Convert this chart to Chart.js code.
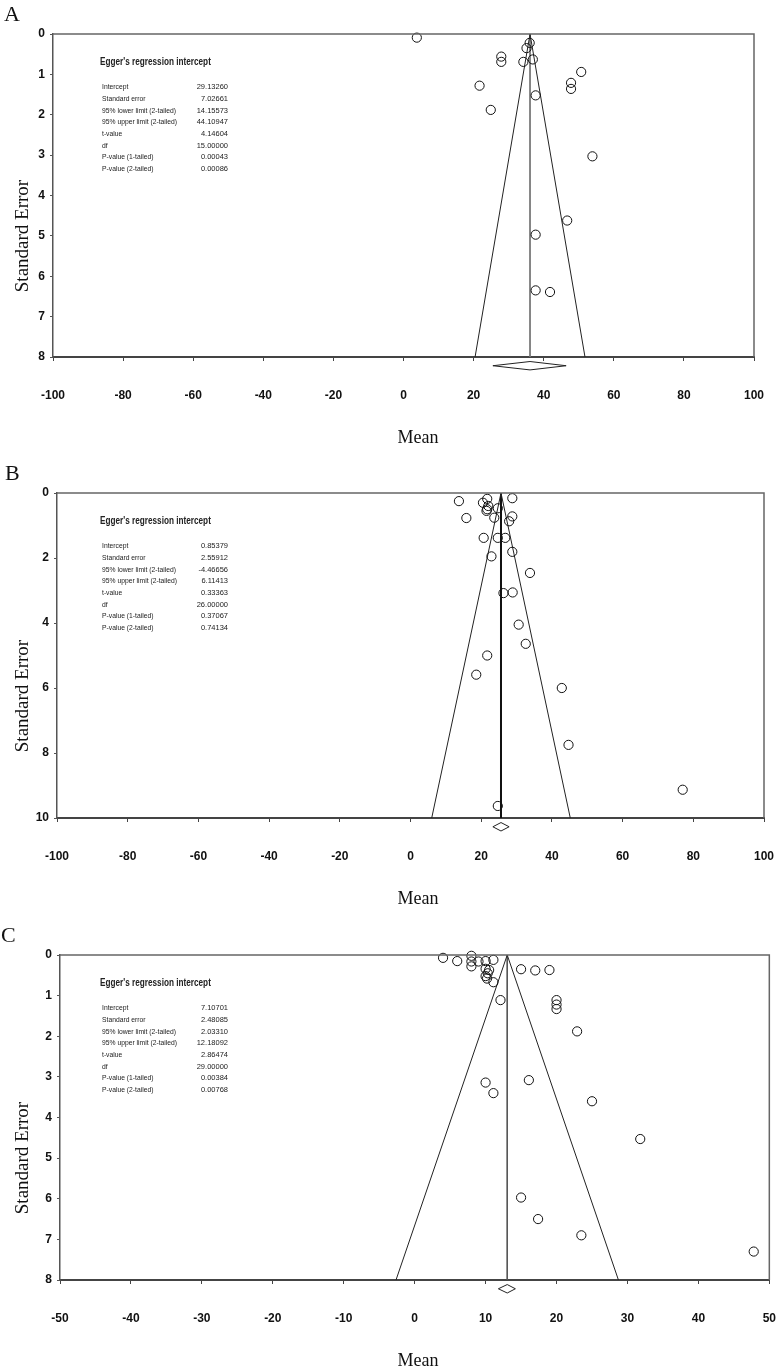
<!DOCTYPE html>
<html>
<head>
<meta charset="utf-8">
<script src="https://cdn.jsdelivr.net/npm/chart.js@4.4.1/dist/chart.umd.min.js"></script>
<style>
  body { margin: 0; background: #fff; }
  #page { position: relative; width: 779px; height: 1370px; overflow: hidden; background: #fff; }
  canvas { position: absolute; left: 0; }
  .letter { position: absolute; font-family: "Liberation Serif", "DejaVu Serif", serif; font-size: 22px; color: #111; line-height: 22px; }
  .ytitle { position: absolute; font-family: "Liberation Serif", serif; font-size: 19px; color: #111; white-space: nowrap; transform: translate(-50%, -50%) rotate(-90deg); }
  .xtitle { position: absolute; font-family: "Liberation Serif", serif; font-size: 18px; color: #111; transform: translate(-50%, -50%); }
  .egger { position: absolute; left: 100px; font-family: "Liberation Sans", Arial, sans-serif; color: #222; }
  .egger .head { position: absolute; left: 0; font-weight: bold; font-size: 10px; line-height: 12px; white-space: nowrap; transform: scaleX(0.82); transform-origin: left center; }
  .egger .lab { position: absolute; left: 2px; font-size: 7.5px; line-height: 11.7px; white-space: nowrap; transform: scaleX(0.9); transform-origin: left center; }
  .egger .val { position: absolute; font-size: 7.5px; line-height: 11.7px; white-space: nowrap; text-align: right; width: 60px; left: 68px; }
</style>
</head>
<body>
<div id="page">
  <canvas id="chartA" width="779" height="460" style="top:0px"></canvas>
  <canvas id="chartB" width="779" height="440" style="top:460px"></canvas>
  <canvas id="chartC" width="779" height="470" style="top:900px"></canvas>
</div>
<script>
// panel A
const meanA = [3.8, 35.1, 36.0, 27.9, 27.9, 34.2, 36.9, 50.7, 21.7, 47.8, 47.8, 37.7, 24.9, 53.9, 46.7, 37.7, 37.7, 41.8];
const seA = [0.09, 0.35, 0.22, 0.56, 0.69, 0.69, 0.63, 0.94, 1.28, 1.21, 1.36, 1.52, 1.88, 3.03, 4.62, 4.97, 6.35, 6.39];
const pooledA = 36.1;
const ciA = [25.5, 46.4];
const eggerA = ["29.13260", "7.02661", "14.15573", "44.10947", "4.14604", "15.00000", "0.00043", "0.00086"];

// panel B
const meanB = [13.7, 21.7, 20.5, 28.8, 22.0, 21.7, 24.7, 21.5, 15.8, 23.7, 28.8, 27.9, 20.7, 24.7, 26.8, 28.8, 22.9, 33.8, 26.3, 28.9, 30.6, 32.6, 21.7, 18.6, 42.8, 44.7, 77.0, 24.7];
const seB = [0.25, 0.18, 0.30, 0.16, 0.40, 0.50, 0.47, 0.55, 0.77, 0.76, 0.72, 0.87, 1.38, 1.38, 1.38, 1.81, 1.95, 2.46, 3.08, 3.06, 4.05, 4.64, 5.0, 5.59, 6.0, 7.75, 9.13, 9.63];
const pooledB = 25.6;
const ciB = [23.3, 27.9];
const eggerB = ["0.85379", "2.55912", "-4.46656", "6.11413", "0.33363", "26.00000", "0.37067", "0.74134"];

// panel C
const meanC = [4.0, 6.0, 8.0, 8.0, 8.0, 9.0, 10.0, 11.1, 10.0, 10.5, 10.0, 10.2, 10.3, 11.1, 15.0, 17.0, 19.0, 12.1, 20.0, 20.0, 20.0, 22.9, 10.0, 16.1, 11.1, 25.0, 31.8, 15.0, 17.4, 23.5, 47.8];
const seC = [0.07, 0.15, 0.02, 0.16, 0.28, 0.16, 0.15, 0.12, 0.34, 0.37, 0.52, 0.58, 0.45, 0.67, 0.35, 0.38, 0.37, 1.11, 1.11, 1.22, 1.33, 1.88, 3.14, 3.08, 3.40, 3.60, 4.53, 5.97, 6.50, 6.90, 7.30];
const pooledC = 13.05;
const ciC = [11.8, 14.2];
const eggerC = ["7.10701", "2.48085", "2.03310", "12.18092", "2.86474", "29.00000", "0.00384", "0.00768"];

const eggerLabels = ["Intercept", "Standard error", "95% lower limit (2-tailed)", "95% upper limit (2-tailed)", "t-value", "df", "P-value (1-tailed)", "P-value (2-tailed)"];
const panelLetters = ["A", "B", "C"];
const xTitle = "Mean";
const yTitle = "Standard Error";
const eggerTitle = "Egger's regression intercept";

const FONT_FAMILY = "'Liberation Sans Narrow', 'Liberation Sans', Arial, sans-serif";
const Y_TICK_FONT = { family: FONT_FAMILY, size: 12, weight: "bold" };
// tall line height pushes the x labels down without widening the side padding
const X_TICK_FONT = { family: FONT_FAMILY, size: 12, weight: "bold", lineHeight: 5.2 };

const boxBorder = {
  id: "boxBorder",
  afterDraw(chart) {
    const { ctx, chartArea } = chart;
    ctx.save();
    ctx.strokeStyle = "#666";
    ctx.lineWidth = 1.5;
    ctx.beginPath();
    ctx.moveTo(chartArea.left, chartArea.top);
    ctx.lineTo(chartArea.right, chartArea.top);
    ctx.lineTo(chartArea.right, chartArea.bottom);
    ctx.stroke();
    ctx.restore();
  },
};

function renderPanel(id, p) {
  const seMax = p.yMax;
  const points = p.means.map((m, i) => ({ x: m, y: p.ses[i] }));
  const funnel = [
    { x: p.pooled - 1.96 * seMax, y: seMax },
    { x: p.pooled, y: 0 },
    { x: p.pooled + 1.96 * seMax, y: seMax },
  ];
  const dy = seMax * 1.027;
  const dh = seMax * 0.013;
  const diamond = [
    { x: p.ci[0], y: dy },
    { x: p.pooled, y: dy - dh },
    { x: p.ci[1], y: dy },
    { x: p.pooled, y: dy + dh },
    { x: p.ci[0], y: dy },
  ];
  const lineSet = (data, color, width) => ({
    data,
    showLine: true,
    borderColor: color,
    borderWidth: width,
    pointRadius: 0,
    fill: false,
    clip: false,
  });
  return new Chart(document.getElementById(id), {
    type: "scatter",
    data: {
      datasets: [
        {
          data: points,
          pointRadius: 4.6,
          pointBorderWidth: 1,
          pointBorderColor: "#111",
          pointBackgroundColor: "rgba(255,255,255,0)",
          clip: false,
        },
        lineSet(funnel, "#222", 1),
        lineSet([{ x: p.pooled, y: 0 }, { x: p.pooled, y: seMax }], p.midColor, p.midWidth),
        lineSet(diamond, "#222", 1),
      ],
    },
    options: {
      responsive: false,
      animation: false,
      events: [],
      layout: { padding: p.padding },
      plugins: { legend: { display: false }, tooltip: { enabled: false } },
      scales: {
        x: {
          type: "linear",
          min: p.xMin,
          max: p.xMax,
          afterFit: (scale) => { scale.height = 60; },
          border: { display: true, color: "#444", width: 2 },
          grid: { drawOnChartArea: false, color: "#444", tickLength: 4 },
          ticks: { stepSize: p.xStep, autoSkip: false, maxRotation: 0, padding: 3, color: "#111", font: X_TICK_FONT },
        },
        y: {
          type: "linear",
          reverse: true,
          min: 0,
          max: p.yMax,
          afterFit: (scale) => { scale.width = p.left; },
          border: { display: true, color: "#555", width: 1.5 },
          grid: { drawOnChartArea: false, color: "#555", tickLength: 3 },
          ticks: { stepSize: p.yStep, autoSkip: false, padding: 5, color: "#111", font: Y_TICK_FONT },
        },
      },
    },
    plugins: [boxBorder],
  });
}

function addText(cls, text, left, top) {
  const el = document.createElement("div");
  el.className = cls;
  el.textContent = text;
  el.style.left = left + "px";
  el.style.top = top + "px";
  document.getElementById("page").appendChild(el);
  return el;
}

function renderEgger(plotTop, values) {
  const box = document.createElement("div");
  box.className = "egger";
  box.style.top = plotTop + "px";
  const head = document.createElement("div");
  head.className = "head";
  head.textContent = eggerTitle;
  head.style.top = 28 - 6 + "px";
  box.appendChild(head);
  eggerLabels.forEach((label, i) => {
    const top = 53 - 5.85 + i * 11.7;
    const lab = document.createElement("div");
    lab.className = "lab";
    lab.textContent = label;
    lab.style.top = top + "px";
    const val = document.createElement("div");
    val.className = "val";
    val.textContent = values[i];
    val.style.top = top + "px";
    box.appendChild(lab);
    box.appendChild(val);
  });
  document.getElementById("page").appendChild(box);
}

const panels = [
  { id: "chartA", top: 0, plotTop: 34, plotBottom: 357, left: 53, right: 754, height: 460,
    means: meanA, ses: seA, pooled: pooledA, ci: ciA, egger: eggerA,
    xMin: -100, xMax: 100, xStep: 20, yMax: 8, yStep: 1, midColor: "#777", midWidth: 1, letterLeft: 4, letterTop: 3 },
  { id: "chartB", top: 460, plotTop: 493, plotBottom: 818, left: 57, right: 764, height: 440,
    means: meanB, ses: seB, pooled: pooledB, ci: ciB, egger: eggerB,
    xMin: -100, xMax: 100, xStep: 20, yMax: 10, yStep: 2, midColor: "#111", midWidth: 2, letterLeft: 5, letterTop: 462 },
  { id: "chartC", top: 900, plotTop: 955, plotBottom: 1280, left: 60, right: 770, height: 470,
    means: meanC, ses: seC, pooled: pooledC, ci: ciC, egger: eggerC,
    xMin: -50, xMax: 50, xStep: 10, yMax: 8, yStep: 1, midColor: "#555", midWidth: 1, letterLeft: 1, letterTop: 924 },
];

panels.forEach((p, i) => {
  p.padding = {
    top: p.plotTop - p.top,
    left: 0,
    right: 779 - p.right,
    bottom: p.top + p.height - p.plotBottom - 60,
  };
  renderPanel(p.id, p);
  addText("letter", panelLetters[i], p.letterLeft, p.letterTop);
  addText("ytitle", yTitle, 22, (p.plotTop + p.plotBottom) / 2 + 40);
  addText("xtitle", xTitle, 418, p.plotBottom + 80);
  renderEgger(p.plotTop, p.egger);
});
</script>
</body>
</html>
